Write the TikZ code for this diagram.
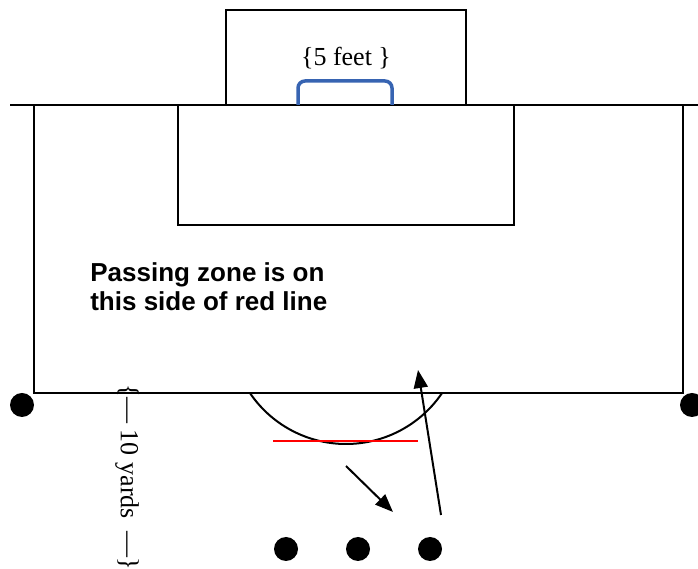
\documentclass[tikz,border=0pt]{standalone}
\usepackage{fontspec}
\setmainfont{Liberation Serif}
\setsansfont{Liberation Sans}
\usetikzlibrary{arrows.meta,calc,positioning}
\usepackage{xcolor}
\definecolor{goalblue}{RGB}{55,100,178}

\begin{document}
\begin{tikzpicture}[x=1pt,y=1pt,line width=2pt,>={Triangle[length=18pt,width=14pt]},
    player/.style={circle,fill=black,inner sep=0pt,minimum size=24pt}]
  \useasboundingbox (0,0) rectangle (698,569);
  % goal box, end line, penalty area
  \draw (226,464) rectangle (466,559);
  \draw (10,464) -- (698,464);
  \draw (34,464) -- (34,176) -- (683,176) -- (683,464);
  \draw (178,464) rectangle (514,344);
  \draw[goalblue, line width=3.5pt, rounded corners=7pt] (298,464) -- (298,488) -- (392,488) -- (392,464);
  \node[font=\fontsize{26}{30}\selectfont] (feet) at (346,511) {\{5 feet \}};
  % arc and red line
  \draw (346,241) ++(214:116) arc (214:326:116);
  \draw[red, line width=1.8pt] (273,128) -- (418,128);
  \node[font=\sffamily\bfseries\fontsize{26}{29}\selectfont, align=left, anchor=west] (zone) at (86,282)
    {Passing zone is on\\this side of red line};
  \node[font=\fontsize{26}{30}\selectfont, rotate=-90, anchor=west, inner sep=0pt] (yards) at (127,185)
    {\{---\ 10 yards\ \ ---\}};
  % players
  \node[player] (pl) at (22,164) {};
  \node[player] (pr) at (692,164) {};
  \foreach \x/\n in {286/1,358/2,430/3}
    \node[player] (p\n) at (\x,20) {};
  % passes
  \coordinate (a1) at (346,103);
  \coordinate (a2) at (393,57);
  \coordinate (b1) at (441,54);
  \coordinate (b2) at (418,199);
  \draw[->] (a1) -- (a2);
  \draw[->] (b1) -- (b2);
\end{tikzpicture}
\end{document}
